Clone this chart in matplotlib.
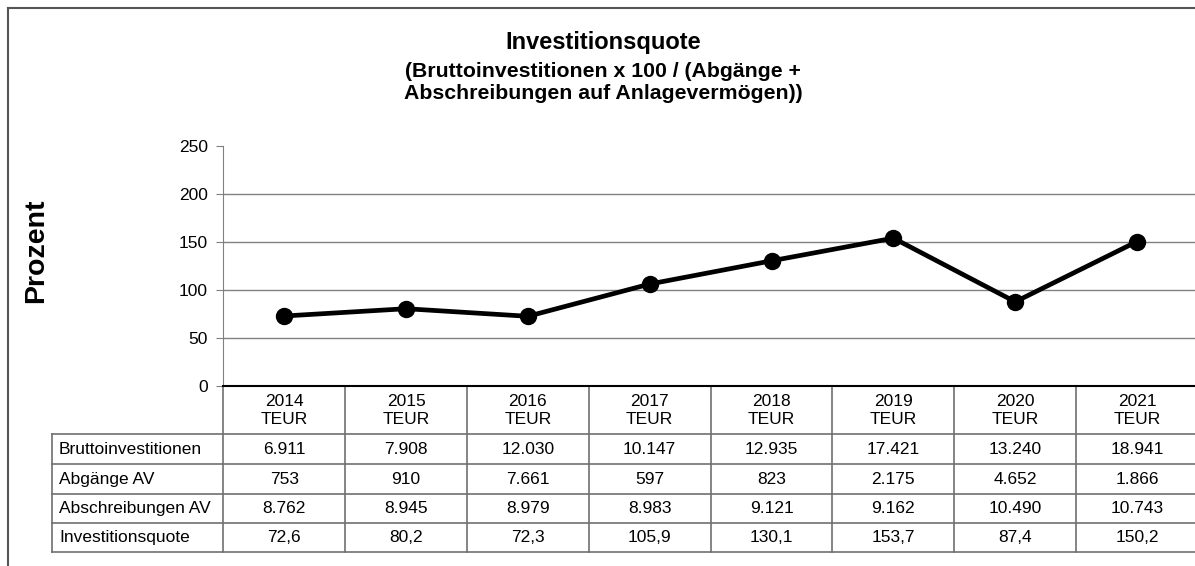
import matplotlib.pyplot as plt
import matplotlib.transforms as mtransforms

plt.rcParams['font.family'] = ['Liberation Sans', 'DejaVu Sans']

# Data
years = ['2014', '2015', '2016', '2017', '2018', '2019', '2020', '2021']
quote = [72.6, 80.2, 72.3, 105.9, 130.1, 153.7, 87.4, 150.2]
row_labels = ['Bruttoinvestitionen', 'Abgänge AV', 'Abschreibungen AV', 'Investitionsquote']
brutto = ['6.911', '7.908', '12.030', '10.147', '12.935', '17.421', '13.240', '18.941']
abgaenge = ['753', '910', '7.661', '597', '823', '2.175', '4.652', '1.866']
abschreib = ['8.762', '8.945', '8.979', '8.983', '9.121', '9.162', '10.490', '10.743']
quote_txt = ['72,6', '80,2', '72,3', '105,9', '130,1', '153,7', '87,4', '150,2']
rows = [brutto, abgaenge, abschreib, quote_txt]

W, H = 1195, 566
fig = plt.figure(figsize=(W / 100, H / 100), dpi=100)

# plot area in pixels
x0, x1 = 223.3, 1198
ytop, ybot = 145.7, 385.7
ax = fig.add_axes([x0 / W, 1 - ybot / H, (x1 - x0) / W, (ybot - ytop) / H])

x = list(range(len(years)))
ax.plot(x, quote, color='black', lw=3.4, marker='o', ms=11.5, zorder=3)
ax.set_xlim(-0.5, len(years) - 0.5)
ax.set_ylim(0, 250)
ax.set_yticks([0, 50, 100, 150, 200, 250])
ax.set_xticks([])
ax.tick_params(axis='y', labelsize=12.5, length=5, color='#808080', pad=6)
ax.grid(axis='y', color='#808080', lw=1)
ax.yaxis.get_gridlines()[-1].set_visible(False)  # no line at 250
for s in ['top', 'right']:
    ax.spines[s].set_visible(False)
ax.spines['left'].set_color('#808080')
ax.spines['bottom'].set_color('black')
ax.spines['bottom'].set_linewidth(1.5)
ax.spines['bottom'].set_zorder(4)

# titles
fig.text(603 / W, 1 - 42 / H, 'Investitionsquote', ha='center', va='center',
         fontsize=17, fontweight='bold')
fig.text(603 / W, 1 - 82.5 / H,
         '(Bruttoinvestitionen x 100 / (Abgänge +\nAbschreibungen auf Anlagevermögen))',
         ha='center', va='center', fontsize=15.3, fontweight='bold', linespacing=1.15)
fig.text(36 / W, 1 - 250.5 / H, 'Prozent', rotation=90, ha='center', va='center',
         fontsize=20.5, fontweight='bold')

# data table under the axis
tr = mtransforms.blended_transform_factory(ax.transData, fig.transFigure)
colw = (x1 - x0) / len(years)
xlab = -0.5 - (x0 - 52) / colw
row_y = [434.3, 464.3, 494.3, 523.3, 551.7]
gc = '#707070'


def fy(p):
    return 1 - p / H


for i in range(len(years) + 1):
    ax.plot([i - 0.5, i - 0.5], [fy(ybot), fy(row_y[-1])], color=gc, lw=1.2,
            transform=tr, clip_on=False)
ax.plot([xlab, xlab], [fy(row_y[0]), fy(row_y[-1])], color=gc, lw=1.2,
        transform=tr, clip_on=False)
for yy in row_y:
    ax.plot([xlab, len(years) - 0.5], [fy(yy), fy(yy)], color=gc, lw=1.2,
            transform=tr, clip_on=False)

for i, yr in enumerate(years):
    ax.text(i, fy(411), yr + '\nTEUR', ha='center', va='center', fontsize=12.5,
            transform=tr, linespacing=1.25)

for r, (lab, vals) in enumerate(zip(row_labels, rows)):
    yc = fy((row_y[r] + row_y[r + 1]) / 2)
    ax.text(xlab + 7 / colw, yc, lab, ha='left', va='center', fontsize=12.5, transform=tr)
    for i, v in enumerate(vals):
        ax.text(i, yc, v, ha='center', va='center', fontsize=12.5, transform=tr)

# outer frame
fig.add_artist(plt.Line2D([8 / W, 1], [fy(8), fy(8)], color='#555555', lw=1.5))
fig.add_artist(plt.Line2D([8 / W, 8 / W], [fy(8), 0], color='#555555', lw=1.5))

fig.savefig('out.png', dpi=100)
